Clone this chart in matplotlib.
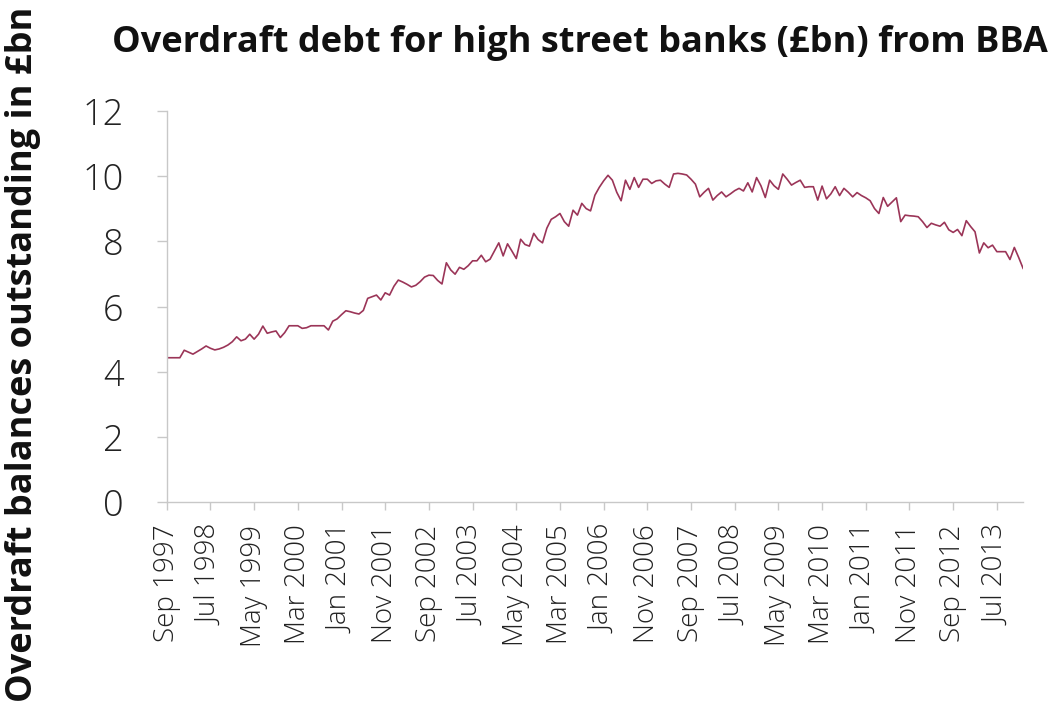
import matplotlib
matplotlib.use("Agg")
import matplotlib.pyplot as plt
import numpy as np

# Overdraft balances (£bn), monthly from Sep 1997 to Jan 2014
overdraft = [
    4.43, 4.43, 4.43, 4.43, 4.66, 4.60, 4.54, 4.62, 4.70, 4.79,
    4.72, 4.67, 4.70, 4.75, 4.82, 4.92, 5.07, 4.95, 5.00, 5.15,
    5.00, 5.15, 5.40, 5.18, 5.22, 5.25, 5.05, 5.20, 5.41, 5.41,
    5.41, 5.33, 5.35, 5.41, 5.41, 5.41, 5.41, 5.28, 5.55, 5.62,
    5.75, 5.87, 5.84, 5.80, 5.77, 5.88, 6.25, 6.30, 6.35, 6.20,
    6.42, 6.35, 6.62, 6.81, 6.75, 6.68, 6.60, 6.65, 6.76, 6.90,
    6.96, 6.95, 6.80, 6.69, 7.34, 7.12, 6.99, 7.20, 7.14, 7.25,
    7.40, 7.40, 7.57, 7.37, 7.45, 7.70, 7.95, 7.55, 7.92, 7.70,
    7.47, 8.06, 7.90, 7.85, 8.24, 8.05, 7.95, 8.40, 8.67, 8.75,
    8.85, 8.60, 8.46, 8.95, 8.80, 9.16, 9.00, 8.93, 9.41, 9.65,
    9.85, 10.02, 9.87, 9.50, 9.24, 9.87, 9.59, 9.95, 9.65, 9.90,
    9.90, 9.77, 9.85, 9.87, 9.75, 9.65, 10.06, 10.08, 10.06, 10.03,
    9.90, 9.75, 9.36, 9.50, 9.62, 9.26, 9.40, 9.51, 9.36, 9.45,
    9.55, 9.62, 9.54, 9.79, 9.51, 9.95, 9.70, 9.34, 9.87, 9.70,
    9.59, 10.06, 9.90, 9.72, 9.80, 9.87, 9.65, 9.67, 9.67, 9.26,
    9.69, 9.30, 9.45, 9.67, 9.40, 9.62, 9.50, 9.36, 9.49, 9.40,
    9.33, 9.24, 9.00, 8.85, 9.34, 9.07, 9.20, 9.33, 8.60, 8.80,
    8.78, 8.77, 8.75, 8.60, 8.42, 8.55, 8.50, 8.46, 8.58, 8.35,
    8.27, 8.36, 8.17, 8.63, 8.45, 8.29, 7.64, 7.95, 7.80, 7.88,
    7.68, 7.68, 7.68, 7.44, 7.81, 7.50, 7.17,
]

tick_labels = [
    "Sep 1997", "Jul 1998", "May 1999", "Mar 2000", "Jan 2001",
    "Nov 2001", "Sep 2002", "Jul 2003", "May 2004", "Mar 2005",
    "Jan 2006", "Nov 2006", "Sep 2007", "Jul 2008", "May 2009",
    "Mar 2010", "Jan 2011", "Nov 2011", "Sep 2012", "Jul 2013",
]
y_ticks = [0, 2, 4, 6, 8, 10, 12]

plt.rcParams['font.family'] = ['Open Sans', 'DejaVu Sans']

fig = plt.figure(figsize=(10.52, 7.09), dpi=100)
ax = fig.add_axes([0.1585, 0.2915, 0.814, 0.5524])

x = np.arange(len(overdraft))
ax.plot(x, overdraft, color="#9b3558", linewidth=1.2)

ax.set_xlim(0, len(overdraft) - 1)
ax.set_ylim(0, 12)

ax.set_xticks(np.arange(0, 10 * len(tick_labels), 10))
ax.set_xticklabels(tick_labels, rotation=90, fontsize=20, color="#222222",
                   fontweight="light")
ax.set_yticks(y_ticks)
ax.set_yticklabels([str(v) for v in y_ticks], fontsize=26, color="#222222",
                   fontweight="light")

for side in ["top", "right"]:
    ax.spines[side].set_visible(False)
for side in ["left", "bottom"]:
    ax.spines[side].set_color("#c8c8c8")
    ax.spines[side].set_linewidth(1.0)
ax.tick_params(axis="both", direction="out", color="#c8c8c8", width=1.0)
ax.tick_params(axis="y", length=7, pad=24)
ax.tick_params(axis="x", length=6, pad=10)

fig.text(0.551, 0.94, "Overdraft debt for high street banks (£bn) from BBA",
         ha="center", va="center", fontsize=26, fontweight="bold", color="#111111")
fig.text(0.022, 0.5, "Overdraft balances outstanding in £bn",
         ha="center", va="center", rotation=90, fontsize=26,
         fontweight="bold", color="#111111")

fig.savefig("out.png", dpi=100)
